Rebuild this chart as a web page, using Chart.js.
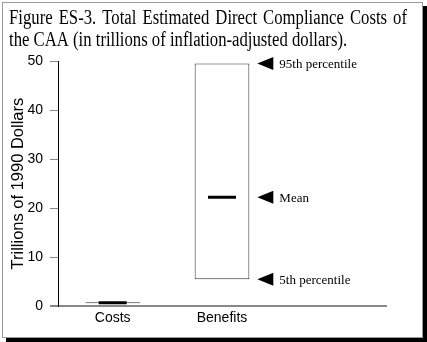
<!DOCTYPE html>
<html>
<head>
<meta charset="utf-8">
<script src="https://cdn.jsdelivr.net/npm/chart.js@4/dist/chart.umd.min.js"></script>
<style>
  html, body { margin: 0; padding: 0; background: #fff; }
  #frame {
    position: absolute; left: 2px; top: 2px;
    width: 419px; height: 334px;
    border: 1px solid #999;
    box-shadow: 4px 4px 0 #000;
    background: #fff;
  }
  #chart { display: block; }
</style>
</head>
<body>
<div id="frame"><canvas id="chart" width="419" height="334"></canvas></div>
<script>
// categories (third slot is empty space on the right of the axis)
const categories = ['Costs', 'Benefits', ''];
// trillions of 1990 dollars
const pct5 = [0.6, 5.5];
const pct95 = [0.8, 49.5];
const means = [0.68, 22.2];
const markerLabels = ['95th percentile', 'Mean', '5th percentile'];
const markerValues = [pct95[1], means[1], pct5[1]];
const yTicks = [0, 10, 20, 30, 40, 50];
const titleLines = ['Figure ES-3. Total Estimated Direct Compliance Costs of',
                    'the CAA (in trillions of inflation-adjusted dollars).'];

// the title in the original is a narrow serif, first line justified
const figTitle = {
  id: 'figTitle',
  afterDraw(chart) {
    const ctx = chart.ctx;
    const sx = 0.835;
    const lineW = 398;
    ctx.save();
    ctx.translate(6, 0);
    ctx.scale(sx, 1);
    ctx.fillStyle = '#000';
    ctx.font = '20px "Liberation Serif", "Times New Roman", serif';
    ctx.textBaseline = 'alphabetic';
    // justified line
    const words = titleLines[0].split(' ');
    const widths = words.map(w => ctx.measureText(w).width);
    const total = widths.reduce((a, b) => a + b, 0);
    const gap = (lineW / sx - total) / (words.length - 1);
    let x = 0;
    words.forEach((w, i) => {
      ctx.fillText(w, x, 21);
      x += widths[i] + gap;
    });
    ctx.fillText(titleLines[1], 0, 43);
    ctx.restore();
  }
};

const markers = {
  id: 'markers',
  afterDatasetsDraw(chart) {
    const bar = chart.getDatasetMeta(0).data[1];
    const y = chart.scales.y;
    const ctx = chart.ctx;
    const x0 = bar.x + bar.width / 2 + 8;
    ctx.save();
    ctx.fillStyle = '#000';
    ctx.font = '13px "Liberation Serif", "Times New Roman", serif';
    ctx.textBaseline = 'middle';
    markerLabels.forEach((lab, i) => {
      const py = y.getPixelForValue(markerValues[i]);
      ctx.beginPath();
      ctx.moveTo(x0, py);
      ctx.lineTo(x0 + 16, py - 6.5);
      ctx.lineTo(x0 + 16, py + 6.5);
      ctx.closePath();
      ctx.fill();
      ctx.fillText(lab, x0 + 22, py + 1);
    });
    ctx.restore();
  }
};

new Chart(document.getElementById('chart'), {
  type: 'bar',
  data: {
    labels: categories,
    datasets: [
      {
        label: 'range',
        data: pct5.map((v, i) => [v, pct95[i]]),
        backgroundColor: '#fff',
        borderColor: '#333',
        borderWidth: 1,
        borderSkipped: false,
        barPercentage: 0.5,
        categoryPercentage: 1,
        grouped: false,
        order: 2
      },
      {
        type: 'line',
        label: 'mean',
        data: means,
        showLine: false,
        pointStyle: 'line',
        pointRadius: 14,
        pointBorderWidth: 3,
        borderColor: '#000',
        backgroundColor: '#000',
        order: 1
      }
    ]
  },
  options: {
    responsive: false,
    animation: false,
    layout: { padding: { left: 6, right: 36, top: 58, bottom: 6 } },
    plugins: {
      legend: { display: false },
      tooltip: { enabled: false },
      title: { display: false }
    },
    scales: {
      x: {
        grid: { display: false, drawTicks: false },
        border: { display: true, color: '#888', width: 2 },
        ticks: {
          color: '#000',
          padding: 4,
          font: { family: '"Liberation Sans", Arial, sans-serif', size: 14 }
        }
      },
      y: {
        min: 0,
        max: 50,
        afterFit(scale) { scale.width = 49; },
        afterBuildTicks(scale) { scale.ticks = yTicks.map(v => ({ value: v })); },
        grid: {
          drawOnChartArea: false,
          drawTicks: true,
          tickLength: 8,
          color: '#888',
          lineWidth: c => (c.tick && c.tick.value === 0 ? 2 : 1)
        },
        border: { display: true, color: '#000', width: 1 },
        ticks: {
          color: '#000',
          padding: 7,
          font: { family: '"Liberation Sans", Arial, sans-serif', size: 14 }
        },
        title: {
          display: true,
          text: 'Trillions of 1990 Dollars',
          color: '#000',
          padding: { top: 0, bottom: 0 },
          font: { family: '"Liberation Sans", Arial, sans-serif', size: 16.5 }
        }
      }
    }
  },
  plugins: [markers, figTitle]
});
</script>
</body>
</html>
